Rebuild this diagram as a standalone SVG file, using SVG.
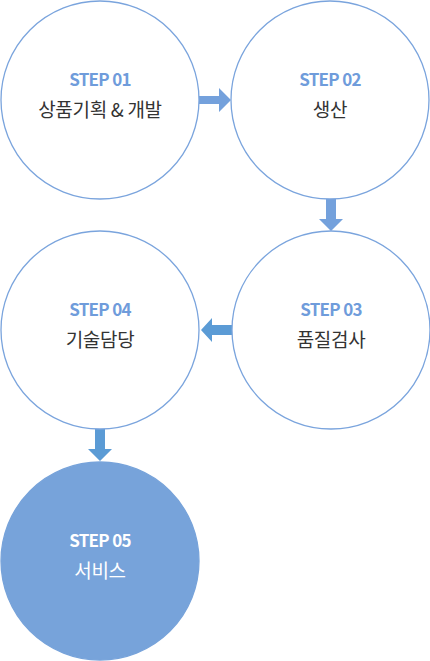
<svg xmlns="http://www.w3.org/2000/svg" width="430" height="661" viewBox="0 0 430 661">
<style>
.c{fill:#ffffff;stroke:#7aa4dd;stroke-width:1.3}
.cf{fill:#77a3da;stroke:#77a3da;stroke-width:1.3}
.s{font-family:"Noto Sans CJK KR","Noto Sans",sans-serif;font-weight:bold;font-size:17px;fill:#6f9cdb;text-anchor:middle;letter-spacing:-0.7px}
.t{font-family:"Noto Sans CJK KR","Noto Sans",sans-serif;font-size:19px;fill:#333333;text-anchor:middle;letter-spacing:-0.3px}
.w{fill:#ffffff}
.a1{fill:#74a1dc}
.a2{fill:#5b9bd5}
</style>
<rect width="430" height="661" fill="#ffffff"/>
<g id="connectors">
<path class="a1" d="M199 96 H219 V88 L231 100 L219 112 V104 H199 Z"/>
<path class="a1" d="M326 199 V219 H319 L331 231 L343 219 H336 V199 Z"/>
<path class="a2" d="M232 325 H212 V318 L201 330 L212 342 V335 H232 Z"/>
<path class="a2" d="M95 429 V449 H88 L100 461 L112 449 H105 V429 Z"/>
</g>
<g id="step1">
<circle class="c" cx="100" cy="100" r="99"/>
<text class="s" x="100" y="86">STEP 01</text>
<text class="t" x="100" y="117">상품기획 &amp; 개발</text>
</g>
<g id="step2">
<circle class="c" cx="330" cy="100" r="99"/>
<text class="s" x="330" y="86">STEP 02</text>
<text class="t" x="330" y="117">생산</text>
</g>
<g id="step3">
<circle class="c" cx="331" cy="330" r="99"/>
<text class="s" x="331" y="316">STEP 03</text>
<text class="t" x="331" y="347">품질검사</text>
</g>
<g id="step4">
<circle class="c" cx="100" cy="330" r="99"/>
<text class="s" x="100" y="316">STEP 04</text>
<text class="t" x="100" y="347">기술담당</text>
</g>
<g id="step5">
<circle class="cf" cx="100" cy="561" r="99"/>
<text class="s w" x="100" y="547">STEP 05</text>
<text class="t w" x="100" y="578">서비스</text>
</g>
</svg>
